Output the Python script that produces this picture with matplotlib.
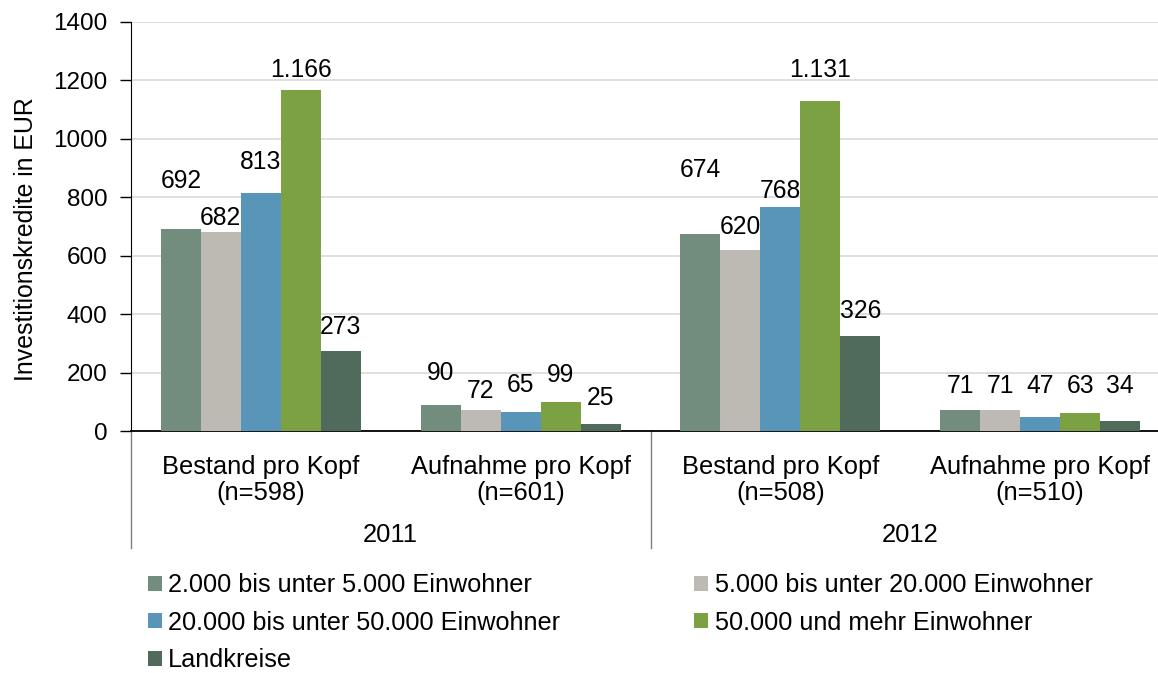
import numpy as np
import matplotlib
matplotlib.use("Agg")
import matplotlib.pyplot as plt
import matplotlib.transforms as mtransforms
from matplotlib.patches import Patch

plt.rcParams['font.family'] = ['Liberation Sans', 'DejaVu Sans']

# data
categories = ["Bestand pro Kopf\n(n=598)", "Aufnahme pro Kopf\n(n=601)",
              "Bestand pro Kopf\n(n=508)", "Aufnahme pro Kopf\n(n=510)"]
years = ["2011", "2012"]
series_names = ["2.000 bis unter 5.000 Einwohner",
                "5.000 bis unter 20.000 Einwohner",
                "20.000 bis unter 50.000 Einwohner",
                "50.000 und mehr Einwohner",
                "Landkreise"]
s_2000 = [692, 90, 674, 71]
s_5000 = [682, 72, 620, 71]
s_20000 = [813, 65, 768, 47]
s_50000 = [1166, 99, 1131, 63]
s_kreise = [273, 25, 326, 34]
values = [s_2000, s_5000, s_20000, s_50000, s_kreise]

colors = ["#728C7E", "#BDB9B3", "#5895B8", "#7BA142", "#506B5B"]

# label offsets above bar top (pixels), staggered like the original
label_off = [
    [48, 32, 64, 24],
    [14, 19, 23, 24],
    [31, 27, 16, 31],
    [20, 27, 31, 27],
    [24, 26, 25, 35],
]

fig = plt.figure(figsize=(11.58, 6.73), dpi=100)
ax = fig.add_axes([131 / 1158, 1 - 431 / 673, 1039 / 1158, 409 / 673])

x = np.arange(len(categories))
n = len(values)
bw = 0.77 / n
for i, vals in enumerate(values):
    pos = x - 0.385 + bw * (i + 0.5)
    ax.bar(pos, vals, width=bw, color=colors[i], zorder=3)
    for j, v in enumerate(vals):
        txt = f"{v:,}".replace(",", ".")
        ax.annotate(txt, (pos[j], v), xytext=(0, label_off[i][j] * 0.72),
                    textcoords="offset points", ha="center", va="center",
                    fontsize=17.7, color="#000000", zorder=4)

ax.set_xlim(-0.5, len(categories) - 0.5)
ax.set_ylim(0, 1400)
ax.set_yticks(np.arange(0, 1401, 200))
ax.yaxis.grid(True, color="#D9D9D9", linewidth=1.2, zorder=0)
ax.set_axisbelow(True)
ax.tick_params(axis="y", labelsize=17.5, length=8, width=1, color="#000000",
               direction="out", pad=9)
ax.tick_params(axis="x", length=0, labelsize=18.4, pad=17)
ax.set_xticks(x)
ax.set_xticklabels(categories, linespacing=1.15)
for s in ["top", "right"]:
    ax.spines[s].set_visible(False)
ax.spines["left"].set_color("#000000")
ax.spines["bottom"].set_color("#000000")
ax.spines["bottom"].set_linewidth(1.3)
ax.set_ylabel("Investitionskredite in EUR", fontsize=17.9, labelpad=11)
ax.yaxis.label.set_y(0.47)

# group separators and year labels below the axis
trans = mtransforms.blended_transform_factory(ax.transData, ax.transAxes)
for xs in [-0.5, 1.5, 3.5]:
    ax.plot([xs, xs], [0, -117 / 409], transform=trans, color="#7F7F7F",
            linewidth=1, clip_on=False)
for k, yr in enumerate(years):
    ax.text(2 * k + 0.5, -(535 - 431) / 409, yr, transform=trans,
            ha="center", va="center", fontsize=18.4)

# legend filled row by row (matplotlib fills columns first)
order = [0, 2, 4, 1, 3]
handles = [Patch(facecolor=colors[k], edgecolor="none") for k in order]
labels = [series_names[k] for k in order]
fig.legend(handles, labels, loc="upper left", ncol=2,
           bbox_to_anchor=(138 / 1158, 1 - 563 / 673), frameon=False,
           fontsize=18.2, handlelength=0.55, handleheight=0.55,
           handletextpad=0.25, columnspacing=5.3, labelspacing=0.54,
           borderaxespad=0)

fig.savefig("out.png", dpi=100)
